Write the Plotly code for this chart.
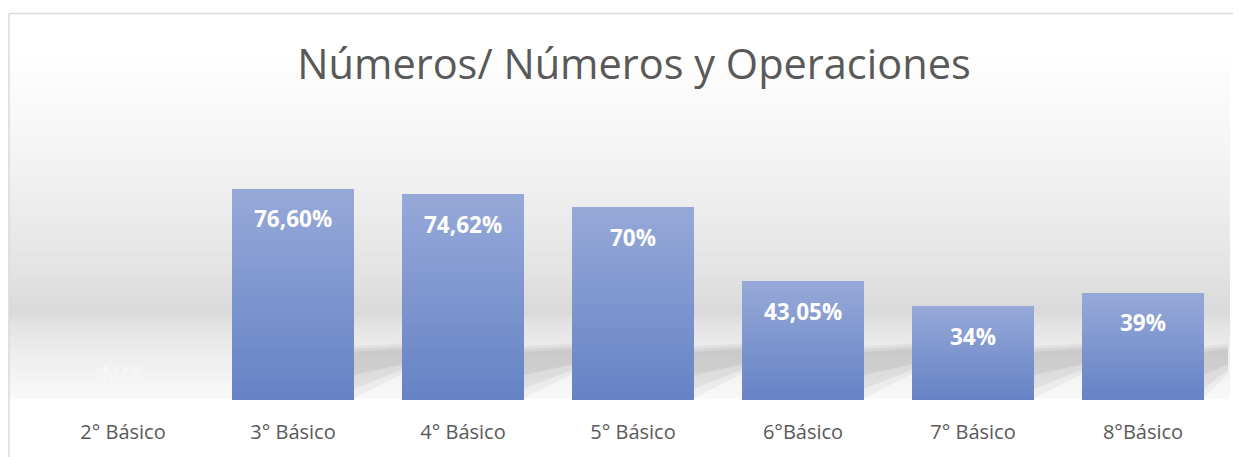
import plotly.graph_objects as go

# ---------------- data ----------------
categories = ["2° Básico", "3° Básico", "4° Básico", "5° Básico", "6°Básico", "7° Básico", "8°Básico"]
values = [0, 76.60, 74.62, 70, 43.05, 34, 39]
value_labels = ["N/A", "76,60%", "74,62%", "70%", "43,05%", "34%", "39%"]
title_text = "Números/ Números y Operaciones"

# ---------------- style ----------------
OFF = 8                    # page body margin in the browser
W, H = 1241 - OFF, 457 - OFF
PL, PR = 38 - OFF, 1228 - OFF     # plot area left/right px (figure coords)
PT, PB = 50 - OFF, 405 - OFF      # plot area top/bottom px
PX_PER_UNIT = 2.794        # px per percent
YMAX = (PB - PT) / PX_PER_UNIT
BAR_W = 0.712
GAP = 1 - BAR_W
TOP_RGB = (0x95, 0xA8, 0xD8)
BOT_RGB = (0x67, 0x83, 0xC5)
N_STEPS = 32
FONT = "Open Sans"

def px_to_paper_x(px):
    return (px - PL) / (PR - PL)

def py_to_paper_y(py):
    return (PB - py) / (PB - PT)

x_pos = list(range(len(categories)))

fig = go.Figure()

# gradient bars built by overlaying progressively shorter bars
for k in range(N_STEPS):
    t = k / (N_STEPS - 1)
    col = tuple(round(TOP_RGB[j] + (BOT_RGB[j] - TOP_RGB[j]) * t) for j in range(3))
    frac = (N_STEPS - k) / N_STEPS
    fig.add_trace(go.Bar(
        x=x_pos, y=[v * frac for v in values], width=BAR_W,
        marker=dict(color="rgb(%d,%d,%d)" % col, line=dict(width=0)),
        hoverinfo="skip", showlegend=False,
    ))

shapes = []

# background gradient of the chart (paper coords), in figure pixel rows
stops = [(50, 255), (120, 248), (200, 238), (280, 226), (318, 217), (326, 226), (360, 238), (404, 249)]
stops = [(a - OFF, c) for a, c in stops]
def shade(py):
    for (a, ca), (b, cb) in zip(stops[:-1], stops[1:]):
        if a <= py <= b:
            return ca + (cb - ca) * (py - a) / (b - a)
    return 255
step = 3
py = PT
bx = px_to_paper_x(1)
bx_right = px_to_paper_x(1230 - OFF)
while py < PB:
    c = round(shade(py + step / 2))
    y0 = py_to_paper_y(py)
    y1 = py_to_paper_y(min(py + step + 0.6, PB))
    shapes.append(dict(type="rect", xref="paper", yref="paper", x0=bx, x1=bx_right, y0=y1, y1=y0,
                       fillcolor="rgb(%d,%d,%d)" % (c, c, c), line=dict(width=0), layer="below"))
    py += step

# soft perspective shadows to the right of each bar
shadow_layers = [
    ((0.5, 19.5, 20.5, 9.5), 0.04),
    ((4.0, 18.5, 19.5, 11.0), 0.05),
    ((9.0, 17.5, 18.5, 13.0), 0.06),
]
for xi, v in zip(x_pos, values):
    if v <= 0:
        continue
    xr = xi + BAR_W / 2
    xe = min(xr + GAP, len(categories) - 0.5)
    for (a, b, c, d), alpha in shadow_layers:
        path = "M %f,%f L %f,%f L %f,%f L %f,%f Z" % (xr, a, xr, b, xe, c, xe, d)
        shapes.append(dict(type="path", xref="x", yref="y", path=path,
                           fillcolor="rgba(0,0,0,%.3f)" % alpha, line=dict(width=0), layer="below"))

# chart border (top and left visible)
by = py_to_paper_y(13 - OFF)
shapes.append(dict(type="line", xref="paper", yref="paper", x0=bx, x1=1.05, y0=by, y1=by,
                   line=dict(color="#d9d9d9", width=1.5)))
shapes.append(dict(type="line", xref="paper", yref="paper", x0=bx, x1=bx, y0=by, y1=-0.3,
                   line=dict(color="#d9d9d9", width=1.5)))

# value labels
annotations = []
for xi, v, lab in zip(x_pos, values, value_labels):
    if v > 0:
        annotations.append(dict(x=xi, y=v, xref="x", yref="y", text="<b>%s</b>" % lab, showarrow=False,
                                yshift=-30, font=dict(family=FONT, size=22.5, color="white")))
    else:
        annotations.append(dict(x=xi, y=v, xref="x", yref="y", text="<b>%s</b>" % lab, showarrow=False,
                                yshift=26, font=dict(family=FONT, size=22.5, color="#f6f6f6")))

fig.update_layout(
    width=W, height=H,
    margin=dict(l=PL, r=W - PR, t=PT, b=H - PB, pad=0),
    paper_bgcolor="white", plot_bgcolor="rgba(0,0,0,0)",
    barmode="overlay", bargap=0,
    title=dict(text=title_text, x=(634 - OFF) / W, xanchor="center", xref="container",
               y=1 - (64 - OFF) / H, yanchor="middle", yref="container",
               font=dict(family=FONT, size=41.5, color="#595959")),
    shapes=shapes, annotations=annotations,
    xaxis=dict(range=[-0.5, len(categories) - 0.5], tickvals=x_pos, ticktext=categories,
               showgrid=False, zeroline=False, showline=False, ticks="", ticklabelstandoff=18,
               tickfont=dict(family=FONT, size=20, color="#595959"), fixedrange=True),
    yaxis=dict(range=[0, YMAX], visible=False, showgrid=False, zeroline=False, fixedrange=True),
    font=dict(family=FONT),
)

fig.write_html("out.html")
